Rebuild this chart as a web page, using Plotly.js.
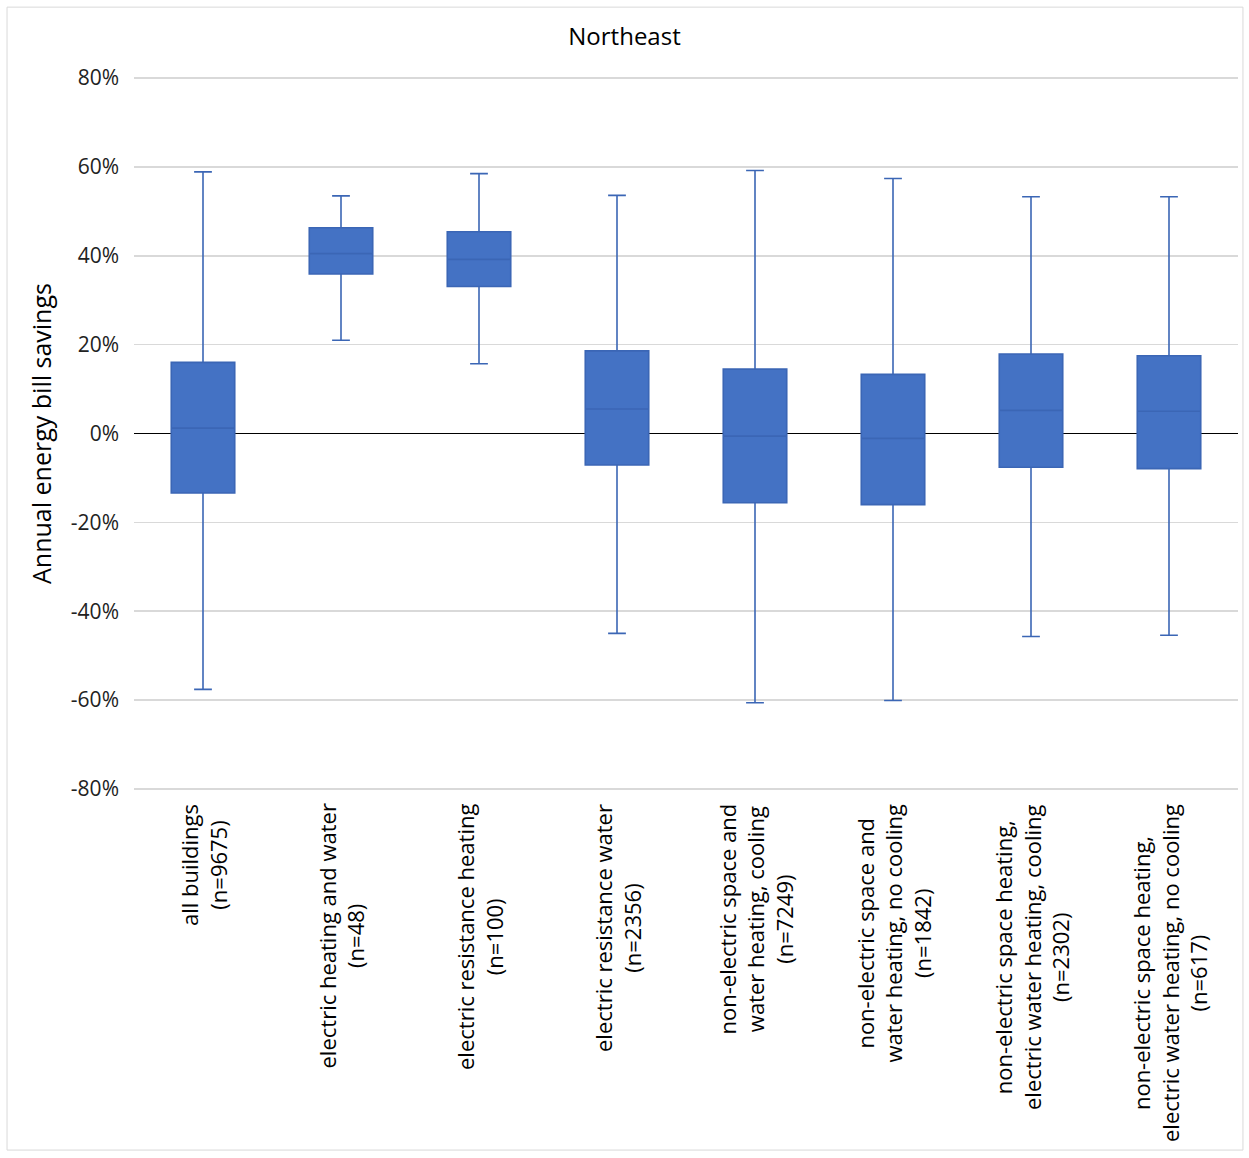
<!DOCTYPE html>
<html>
<head>
<meta charset="utf-8">
<script src="https://cdn.plot.ly/plotly-3.0.1.min.js"></script>
<style>html,body{margin:0;padding:0;background:#fff;}#chart{width:1249px;height:1158px;}</style>
</head>
<body>
<div id="chart"></div>
<script>
const categories = [
  "all buildings<br>(n=9675)",
  "electric heating and water<br>(n=48)",
  "electric resistance heating<br>(n=100)",
  "electric resistance water<br>(n=2356)",
  "non-electric space and<br>water heating, cooling<br>(n=7249)",
  "non-electric space and<br>water heating, no cooling<br>(n=1842)",
  "non-electric space heating,<br>electric water heating, cooling<br>(n=2302)",
  "non-electric space heating,<br>electric water heating, no cooling<br>(n=617)"
];
const lowerWhisker = [-57.6, 21.0, 15.7, -45.0, -60.6, -60.1, -45.7, -45.4];
const q1Values     = [-13.4, 35.9, 33.1, -7.1, -15.6, -16.0, -7.6, -7.9];
const medianValues = [1.2, 40.5, 39.2, 5.5, -0.6, -1.1, 5.2, 5.0];
const q3Values     = [16.0, 46.3, 45.4, 18.6, 14.5, 13.3, 17.9, 17.5];
const upperWhisker = [58.9, 53.5, 58.5, 53.6, 59.2, 57.4, 53.3, 53.3];
const yTickVals = [-80, -60, -40, -20, 0, 20, 40, 60, 80];
const yTickText = yTickVals.map(v => v + "%");

const xIdx = categories.map((c, i) => i);
const FONT = "Open Sans, Noto Sans, sans-serif";

const trace = {
  type: "box",
  x: xIdx,
  q1: q1Values,
  median: medianValues,
  q3: q3Values,
  lowerfence: lowerWhisker,
  upperfence: upperWhisker,
  fillcolor: "#4472C4",
  line: {color: "#3B66B5", width: 1.6},
  width: 0.46,
  whiskerwidth: 0.28,
  boxpoints: false,
  hoverinfo: "skip",
  showlegend: false
};

const annotations = categories.map((c, i) => ({
  x: i, xref: "x", y: 0, yref: "paper",
  yanchor: "top", xanchor: "center", yshift: -12,
  text: c, textangle: -90, align: "center", showarrow: false,
  font: {family: FONT, size: 22, color: "#000"}
}));

const layout = {
  width: 1249, height: 1158,
  margin: {l: 134, r: 11, t: 77, b: 368},
  paper_bgcolor: "#fff", plot_bgcolor: "#fff",
  title: {text: "Northeast", x: 0.5, xanchor: "center", y: 0.968, yanchor: "middle",
          font: {family: FONT, size: 24, color: "#000"}},
  xaxis: {range: [-0.5, 7.5], showticklabels: false, showgrid: false, zeroline: false,
          showline: false, ticks: "", fixedrange: true},
  yaxis: {range: [-80.25, 80.25], tickvals: yTickVals, ticktext: yTickText,
          showgrid: true, gridcolor: "#D9D9D9", gridwidth: 1.5,
          zeroline: true, zerolinecolor: "#000", zerolinewidth: 1,
          showline: false, ticks: "", ticklabelstandoff: 14,
          tickfont: {family: FONT, size: 21, color: "#222"},
          title: {text: "Annual energy bill savings", standoff: 12,
                  font: {family: FONT, size: 25, color: "#000"}}},
  annotations: annotations,
  shapes: [{type: "rect", xref: "paper", yref: "paper",
            x0: -0.115, x1: 1.0045, y0: -0.505, y1: 1.098,
            line: {color: "#D9D9D9", width: 1}, fillcolor: "rgba(0,0,0,0)", layer: "below"}]
};

Plotly.newPlot("chart", [trace], layout, {displayModeBar: false, staticPlot: true});
</script>
</body>
</html>
